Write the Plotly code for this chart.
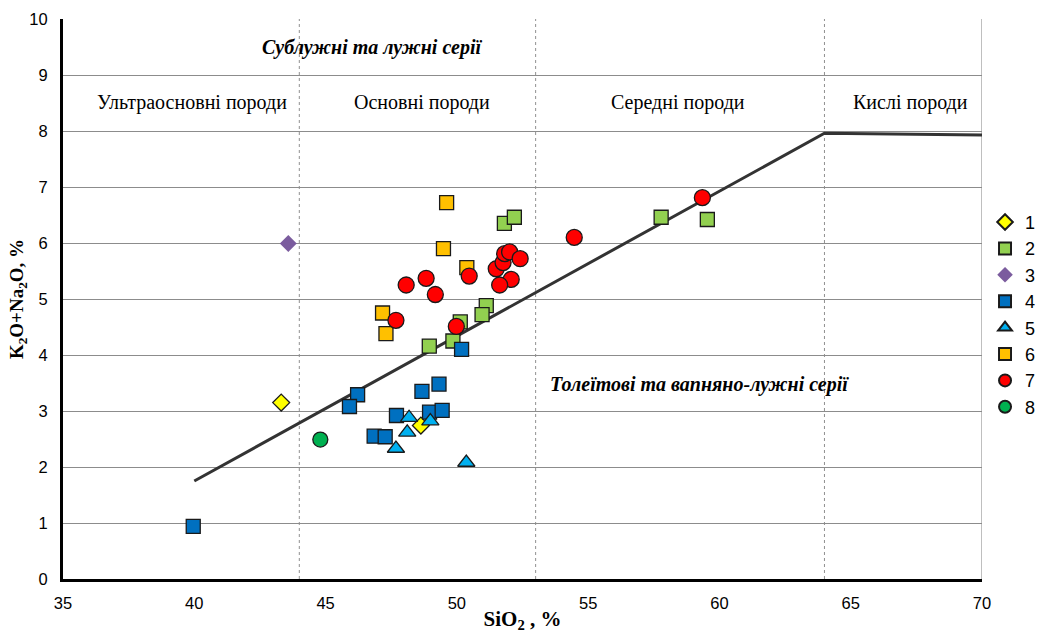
import plotly.graph_objects as go

# ---- data (SiO2 %, K2O+Na2O %) ----
s1_x = [43.31, 48.63]
s1_y = [3.15, 2.74]

s2_x = [51.81, 52.19, 57.78, 59.54, 51.12, 50.96, 50.13, 49.85, 48.95]
s2_y = [6.35, 6.46, 6.46, 6.42, 4.88, 4.72, 4.59, 4.25, 4.16]

s3_x = [43.58]
s3_y = [5.99]

s4_x = [39.96, 46.22, 45.91, 47.70, 46.85, 47.27, 48.67, 49.32, 48.96, 49.44, 50.18]
s4_y = [0.94, 3.29, 3.08, 2.92, 2.55, 2.54, 3.35, 3.48, 2.98, 3.01, 4.10]

s5_x = [48.18, 48.99, 48.11, 47.68, 50.36]
s5_y = [2.88, 2.82, 2.62, 2.33, 2.08]

s6_x = [49.61, 49.49, 50.38, 47.17, 47.30]
s6_y = [6.72, 5.90, 5.56, 4.75, 4.38]

s7_x = [48.07, 48.83, 49.18, 50.47, 47.68, 49.98, 51.50, 51.76, 51.82, 52.01, 52.41, 52.07, 51.63, 54.47, 59.35]
s7_y = [5.25, 5.37, 5.08, 5.41, 4.62, 4.51, 5.54, 5.65, 5.81, 5.84, 5.72, 5.35, 5.25, 6.10, 6.81]

s8_x = [44.80]
s8_y = [2.49]

# dividing line (alkaline / subalkaline)
line_x = [40, 64, 70]
line_y = [1.75, 7.96, 7.93]

# rock-type boundaries
bounds_x = [44, 53, 64]

x_ticks = [35, 40, 45, 50, 55, 60, 65, 70]
y_ticks = list(range(0, 11))

series = [
    ("1", s1_x, s1_y, "diamond", "#FFFF00", 13),
    ("2", s2_x, s2_y, "square", "#92D050", 14),
    ("3", s3_x, s3_y, "diamond", "#7B5C9E", 13),
    ("4", s4_x, s4_y, "square", "#0070C0", 14),
    ("5", s5_x, s5_y, "triangle-up", "#00B0F0", 15),
    ("6", s6_x, s6_y, "square", "#FFC000", 14),
    ("7", s7_x, s7_y, "circle", "#FF0000", 16),
    ("8", s8_x, s8_y, "circle", "#00B050", 15),
]

fig = go.Figure()

fig.add_trace(go.Scatter(x=line_x, y=line_y, mode="lines",
                         line=dict(color="#333333", width=3),
                         showlegend=False, hoverinfo="skip"))

for name, xs, ys, sym, col, sz in series:
    mline = dict(color="#1a1a1a", width=1.3)
    if name in ("3",):
        mline = dict(color=col, width=0)
    fig.add_trace(go.Scatter(x=xs, y=ys, mode="markers", name=name,
                             legendgroup=name,
                             marker=dict(symbol=sym, color=col, size=sz, line=mline)))

shapes = []
for bx in bounds_x:
    shapes.append(dict(type="line", xref="x", yref="y", x0=bx, x1=bx, y0=0, y1=10,
                       line=dict(color="#909090", width=1, dash="dot"), layer="below"))
shapes.append(dict(type="line", xref="x", yref="y", x0=70, x1=70, y0=0, y1=10,
                   line=dict(color="#7f7f7f", width=1), layer="below"))

serif = "Liberation Serif, Times New Roman, serif"
ann = [
    dict(x=46.78, y=9.49, text="<b><i>Сублужні та лужні серії</i></b>", font=dict(size=20, family=serif)),
    dict(x=39.92, y=8.51, text="Ультраосновні породи", font=dict(size=20, family=serif)),
    dict(x=48.69, y=8.51, text="Основні породи", font=dict(size=20, family=serif)),
    dict(x=58.43, y=8.51, text="Середні породи", font=dict(size=20, family=serif)),
    dict(x=67.27, y=8.51, text="Кислі породи", font=dict(size=20, family=serif)),
    dict(x=59.23, y=3.47, text="<b><i>Толеїтові та вапняно-лужні серії</i></b>", font=dict(size=20, family=serif)),
]
annotations = [dict(a, xref="x", yref="y", showarrow=False, font=dict(a["font"], color="black")) for a in ann]

fig.update_layout(
    width=1039, height=633,
    margin=dict(l=63, r=57, t=19, b=54, autoexpand=False),
    paper_bgcolor="white", plot_bgcolor="white",
    font=dict(family="Liberation Sans, Arial, sans-serif", size=16, color="black"),
    shapes=shapes, annotations=annotations,
    legend=dict(x=1.0033, xanchor="left", y=0.67, yanchor="top",
                font=dict(size=18, family="Liberation Sans, Arial, sans-serif"),
                tracegroupgap=0, itemwidth=30, itemsizing="constant",
                bgcolor="rgba(0,0,0,0)"),
    showlegend=True,
)

fig.update_xaxes(range=[35, 70], tickvals=x_ticks, showgrid=False, zeroline=False,
                 showline=True, linecolor="black", linewidth=3, ticks="",
                 tickfont=dict(size=16.5), ticklabelstandoff=7, automargin=False,
                 title=dict(text="<b>SiO<sub>2</sub> , %</b>", font=dict(family=serif, size=21), standoff=6))
fig.update_yaxes(range=[0, 10], tickvals=y_ticks, showgrid=True, gridcolor="#8c8c8c", gridwidth=1,
                 zeroline=False, showline=True, linecolor="black", linewidth=3, ticks="",
                 tickfont=dict(size=16.5), ticklabelstandoff=9, automargin=False,
                 title=dict(text="<b>K<sub>2</sub>O+Na<sub>2</sub>O, %</b>", font=dict(family=serif, size=19), standoff=1))

fig.write_html("out.html", config={"displayModeBar": False},
               post_script="document.body.style.margin='0px';")
